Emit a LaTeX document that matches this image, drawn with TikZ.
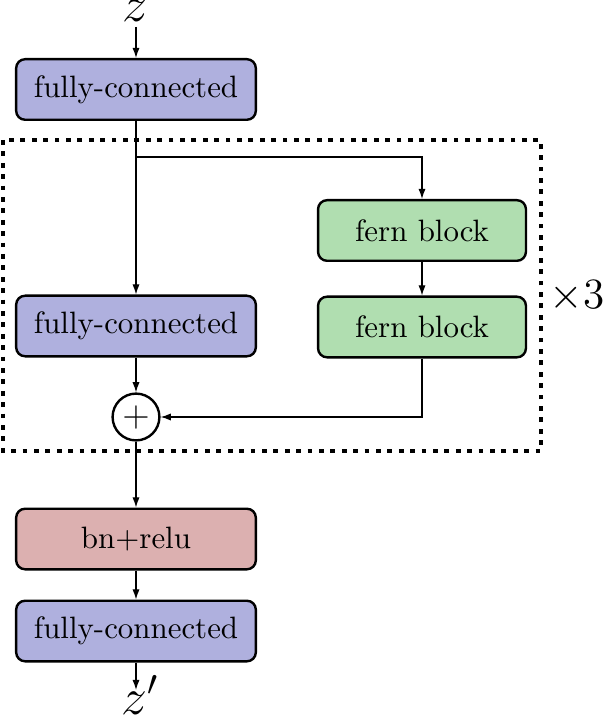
\documentclass[tikz,border=0pt]{standalone}
\usetikzlibrary{arrows.meta}
\definecolor{fcblue}{RGB}{175,176,222}
\definecolor{ferngreen}{RGB}{176,222,176}
\definecolor{bnred}{RGB}{220,176,176}
\begin{document}
\begin{tikzpicture}[x=0.33333pt,y=-0.33333pt,
  blk/.style={draw, thick, rounded corners=3pt, minimum height=20.2pt, inner sep=0pt, font=\fontsize{10.3pt}{12pt}\selectfont},
  fc/.style={blk, fill=fcblue, minimum width=79.9pt},
  fern/.style={blk, fill=ferngreen, minimum width=69.3pt},
  bn/.style={blk, fill=bnred, minimum width=79.9pt},
  arr/.style={-{Latex[length=3.4pt,width=2.4pt]}},
  lbl/.style={inner sep=0pt, font=\LARGE},
  repbox/.style={line width=1.6pt, dash pattern=on 1.6pt off 2.2pt}]
\useasboundingbox (0,0) rectangle (604,717);

\node[fc] (fc1) at (136,89.5) {fully-connected};
\node[fern] (fern1) at (422,230.5) {fern block};
\node[fern] (fern2) at (422,327) {fern block};
\node[fc] (fc2) at (136,326) {fully-connected};
\node[draw, thick, circle, minimum size=15.6pt, inner sep=0pt, font=\large] (plus) at (136,417) {$+$};
\node[bn] (bn) at (136,539) {bn+relu};
\node[fc] (fc3) at (136,631) {fully-connected};

\node[lbl, anchor=base] (zin) at (135,22) {$z$};
\node[lbl, anchor=base] (zout) at (140,714) {$z'$};
\node[font=\Large, inner sep=0pt] (times) at (577,296) {$\times 3$};

\coordinate (zinend) at (136,27);
\coordinate (zoutend) at (136,690);
\coordinate (split) at (136,157);

\draw[repbox] (3,140) rectangle (541,451);

\draw[arr] (zinend) -- (fc1.north);
\draw[arr] (fc1.south) -- (fc2.north);
\draw[arr] (split) -| (fern1.north);
\draw[arr] (fern1) -- (fern2);
\draw[arr] (fc2) -- (plus);
\draw[arr] (fern2.south) |- (plus.east);
\draw[arr] (plus) -- (bn);
\draw[arr] (bn) -- (fc3);
\draw[arr] (fc3.south) -- (zoutend);
\end{tikzpicture}
\end{document}
